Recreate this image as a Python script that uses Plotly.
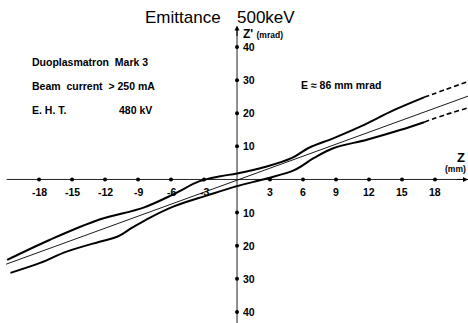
import plotly.graph_objects as go

# ---- data ----
upper_z = [-20.9, -17.0, -12.5, -8.5, -5.8, -3.4, -1.5, 0.0, 2.7, 5.0, 6.5, 8.8, 11.3, 14.3, 17.0]
upper_zp = [-24.3, -18.2, -12.1, -8.5, -4.5, -0.5, 1.0, 1.8, 3.9, 6.5, 9.5, 12.5, 16.1, 21.0, 24.8]
upper_dash_z = [17.0, 19.0, 21.2]
upper_dash_zp = [24.8, 27.2, 29.8]

lower_z = [-20.6, -17.9, -15.5, -12.5, -10.9, -9.5, -7.9, -5.8, -2.7, 0.0, 2.7, 5.2, 7.0, 8.8, 11.8, 14.9, 17.0]
lower_zp = [-28.2, -25.2, -21.8, -18.8, -17.3, -14.5, -11.5, -8.2, -4.8, -2.0, 0.3, 2.8, 6.5, 9.5, 12.0, 15.0, 17.3]
lower_dash_z = [17.0, 19.0, 21.2]
lower_dash_zp = [17.3, 19.6, 21.8]

center_z = [-21.0, 21.2]
center_zp = [-25.6, 25.4]

x_ticks = [-18, -15, -12, -9, -6, -3, 3, 6, 9, 12, 15, 18]
x_tick_labels = ["-18", "-15", "-12", "-9", "-6", "-3", "3", "6", "9", "12", "15", "18"]
y_ticks = [40, 30, 20, 10, -10, -20, -30, -40]
y_tick_labels = ["40", "30", "20", "10", "10", "20", "30", "40"]

x_range = [-21.55, 21.0]
y_range = [-43.35, 54.2]

FONT = "Liberation Sans"

fig = go.Figure()

# axes drawn through the origin
fig.add_trace(go.Scatter(x=[x_range[0] + 0.6, x_range[1]], y=[0, 0], mode="lines",
                         line=dict(color="#222", width=1), hoverinfo="skip"))
fig.add_trace(go.Scatter(x=[0, 0], y=[y_range[0], 45.8], mode="lines",
                         line=dict(color="#444", width=1.2), hoverinfo="skip"))
fig.add_trace(go.Scatter(x=x_ticks, y=[0] * len(x_ticks), mode="markers",
                         marker=dict(symbol="circle", size=4, color="black"), hoverinfo="skip"))
fig.add_trace(go.Scatter(x=[0] * len(y_ticks), y=y_ticks, mode="markers",
                         marker=dict(symbol="circle", size=4, color="black"), hoverinfo="skip"))

# emittance curves
thick = dict(color="black", width=2)
fig.add_trace(go.Scatter(x=upper_z, y=upper_zp, mode="lines", line=dict(thick, shape="spline"), hoverinfo="skip"))
fig.add_trace(go.Scatter(x=lower_z, y=lower_zp, mode="lines", line=dict(thick, shape="spline"), hoverinfo="skip"))
fig.add_trace(go.Scatter(x=upper_dash_z, y=upper_dash_zp, mode="lines",
                         line=dict(color="black", width=1.6, dash="5px,3px", shape="spline"), hoverinfo="skip"))
fig.add_trace(go.Scatter(x=lower_dash_z, y=lower_dash_zp, mode="lines",
                         line=dict(color="black", width=1.6, dash="5px,3px", shape="spline"), hoverinfo="skip"))
fig.add_trace(go.Scatter(x=center_z, y=center_zp, mode="lines",
                         line=dict(color="black", width=0.9), hoverinfo="skip"))

ann = []
for v, t in zip(x_ticks, x_tick_labels):
    ann.append(dict(x=v, y=0, xref="x", yref="y", text="<b>" + t + "</b>", showarrow=False, yshift=-13,
                    yanchor="middle", font=dict(family=FONT, size=10.5, color="black")))
for v, t in zip(y_ticks, y_tick_labels):
    ann.append(dict(x=0, y=v, xref="x", yref="y", text="<b>" + t + "</b>", showarrow=False,
                    xanchor="left", xshift=4,
                    yanchor="middle", font=dict(family=FONT, size=10.5, color="black")))

# arrow heads
ann.append(dict(x=x_range[1], y=0, ax=-12, ay=0, xref="x", yref="y", showarrow=True,
                arrowhead=2, arrowsize=1, arrowwidth=1, arrowcolor="black", text=""))
ann.append(dict(x=0, y=46.5, ax=0, ay=12, xref="x", yref="y", showarrow=True,
                arrowhead=2, arrowsize=1, arrowwidth=1, arrowcolor="black", text=""))

# texts
def txt(x, y, s, size, xanchor="left", **kw):
    return dict(x=x, y=y, xref="paper", yref="paper", text=s, showarrow=False,
                xanchor=xanchor, yanchor="middle",
                font=dict(family=FONT, size=size, color="black"), **kw)

ann += [
    txt(182.5 / 468, 1 - 18 / 323, "Emittance", 17, "center"),
    txt(266 / 468, 1 - 18 / 323, "500keV", 17, "center"),
    dict(x=0, y=0, xref="x", yref="y", text="<b>Z' <span style='font-size:8.5px'>(mrad)</span></b>",
         showarrow=False, xanchor="left", yanchor="middle", xshift=4, yshift=145,
         font=dict(family=FONT, size=12, color="black")),
    txt(30 / 468, 1 - 62 / 323, "<b>Duoplasmatron  Mark 3</b>", 10.5),
    txt(30 / 468, 1 - 86 / 323, "<b>Beam  current  &gt; 250 mA</b>", 10.5),
    txt(30 / 468, 1 - 110 / 323, "<b>E. H. T.</b>", 10.5),
    txt(117 / 468, 1 - 110 / 323, "<b>480 kV</b>", 10.5),
    txt(299 / 468, 1 - 85 / 323, "<b>E ≈ 86 mm mrad</b>", 10.5),
    txt(467 / 468, 1 - 157 / 323, "<b>Z</b>", 13, "right"),
    txt(1.0, 1 - 169 / 323, "<b>(mm)</b>", 8.5, "right"),
]

fig.update_layout(
    width=468, height=323,
    margin=dict(l=0, r=0, t=0, b=0),
    paper_bgcolor="white", plot_bgcolor="white",
    showlegend=False,
    xaxis=dict(range=x_range, visible=False, fixedrange=True),
    yaxis=dict(range=y_range, visible=False, fixedrange=True),
    annotations=ann,
)

fig.write_html("out.html", config={"displayModeBar": False},
               post_script="document.body.style.margin='0px';document.body.style.overflow='hidden';")
